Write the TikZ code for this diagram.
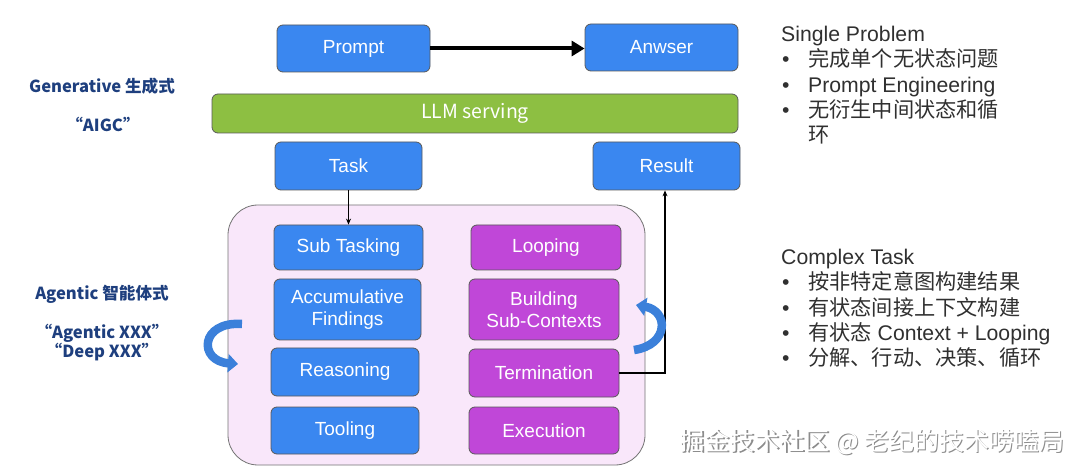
\documentclass[tikz,border=0pt]{standalone}
\usepackage{fontspec}
\setmainfont{Liberation Sans}
\newfontfamily\cjk{Noto Sans CJK SC}
\usetikzlibrary{arrows.meta}
\definecolor{bblue}{HTML}{3A87F0}
\definecolor{ppurple}{HTML}{C047D8}
\definecolor{lgreen}{HTML}{8DBF42}
\definecolor{lpink}{HTML}{F9E7FA}
\definecolor{navy}{HTML}{1E3F7E}
\definecolor{txtgray}{HTML}{303030}
\definecolor{carrow}{HTML}{3B80DA}
\begin{document}
\begin{tikzpicture}[x=1pt,y=-1pt,
  box/.style={draw=black!65, line width=0.8pt, rounded corners=6pt, text=white,
    font=\fontsize{19}{22}\selectfont, align=center, inner sep=0pt},
  bluebox/.style={box, fill=bblue},
  purplebox/.style={box, fill=ppurple},
  lefttxt/.style={text=navy, font=\cjk\bfseries\fontsize{16.6}{19}\selectfont, anchor=base, inner sep=0pt},
  righttxt/.style={text=txtgray, font=\fontsize{21.2}{24}\selectfont, anchor=base west, inner sep=0pt},
  conn/.style={draw=black, line width=1.2pt, -{Stealth[length=6pt,width=5pt]}},
  curv/.style={draw=carrow, line width=8.5pt, -{Triangle[length=10pt,width=18pt]}}
]
\useasboundingbox (0,0) rectangle (1080,473);

% container
\node[draw=black!55, line width=0.8pt, fill=lpink, rounded corners=30pt,
  minimum width=417pt, minimum height=260pt, inner sep=0pt] (cont) at (436.5,335) {};

% top row
\node[bluebox, minimum width=153pt, minimum height=47pt] (prompt) at (353.5,48.5) {Prompt};
\node[bluebox, minimum width=153pt, minimum height=47pt] (answer) at (661.5,47.5) {Anwser};
\node[box, fill=lgreen, minimum width=526pt, minimum height=39pt,
  font=\cjk\fontsize{19.5}{22}\selectfont] (llm) at (475,113.5) {LLM serving};
\node[bluebox, minimum width=147pt, minimum height=48pt] (task) at (348.5,166) {Task};
\node[bluebox, minimum width=147pt, minimum height=48pt] (result) at (666.5,166) {Result};

% inner boxes
\node[bluebox, minimum width=149pt, minimum height=45pt] (subtask) at (348.5,247.5) {Sub Tasking};
\node[bluebox, minimum width=147pt, minimum height=61pt] (accum) at (347.5,309.5) {Accumulative\\Findings};
\node[bluebox, minimum width=148pt, minimum height=48pt] (reason) at (345,372) {Reasoning};
\node[bluebox, minimum width=148pt, minimum height=47pt] (tool) at (345,430.5) {Tooling};
\node[purplebox, minimum width=150pt, minimum height=45pt] (loop) at (546,247.5) {Looping};
\node[purplebox, minimum width=150pt, minimum height=61pt] (build) at (544,309.5) {Building\\Sub-Contexts};
\node[purplebox, minimum width=150pt, minimum height=48pt] (term) at (544,373) {Termination};
\node[purplebox, minimum width=150pt, minimum height=47pt] (exec) at (544,430.5) {Execution};

% connectors
\draw[draw=black, line width=4pt, -{Triangle[length=13pt,width=15pt]}] (prompt.east) -- (answer.west |- prompt.east);
\draw[conn] (task.south) -- (subtask.north);
\coordinate (rt) at (665,373);
\draw[conn] (term.east) -- (rt) -- (rt |- result.south);

% curved arrows
\draw[curv] (242,324) .. controls (200,321) and (198,361) .. (238,364);
\draw[curv] (634,350) .. controls (669,345) and (669,311) .. (636,305);

% left labels
\node[lefttxt] (gen) at (102,93) {Generative 生成式};
\node[lefttxt] (aigc) at (103,132) {“AIGC”};
\node[lefttxt] (agentic) at (102,300) {Agentic 智能体式};
\node[lefttxt] (agx) at (102,339) {“Agentic XXX”};
\node[lefttxt] (deep) at (102,358) {“Deep XXX”};

% right text: single problem
\node[righttxt] (sp) at (781,42) {Single Problem};
\node[righttxt] (b1) at (782,67) {•};
\node[righttxt] (t1) at (808,67) {\cjk 完成单个无状态问题};
\node[righttxt] (b2) at (782,93) {•};
\node[righttxt] (t2) at (808,93) {Prompt Engineering};
\node[righttxt] (b3) at (782,118) {•};
\node[righttxt] (t3) at (808,118) {\cjk 无衍生中间状态和循};
\node[righttxt] (t3b) at (808,143) {\cjk 环};

% right text: complex task
\node[righttxt] (ct) at (781,265) {Complex Task};
\node[righttxt] (c1) at (782,290) {•};
\node[righttxt] (u1) at (808,290) {\cjk 按非特定意图构建结果};
\node[righttxt] (c2) at (782,316) {•};
\node[righttxt] (u2) at (808,316) {\cjk 有状态间接上下文构建};
\node[righttxt] (c3) at (782,341) {•};
\node[righttxt] (u3) at (808,341) {{\cjk 有状态} Context + Looping};
\node[righttxt] (c4) at (782,366) {•};
\node[righttxt] (u4) at (808,366) {\cjk 分解、行动、决策、循环};

% watermark
\node[text=black!45, font=\cjk\fontsize{25}{28}\selectfont, anchor=base west, inner sep=0pt] (wms) at (680.8,451.8) {掘金技术社区 @ 老纪的技术唠嗑局};
\node[text=white, font=\cjk\fontsize{25}{28}\selectfont, anchor=base west, inner sep=0pt] (wm) at (679.5,450.5) {掘金技术社区 @ 老纪的技术唠嗑局};
\end{tikzpicture}
\end{document}
